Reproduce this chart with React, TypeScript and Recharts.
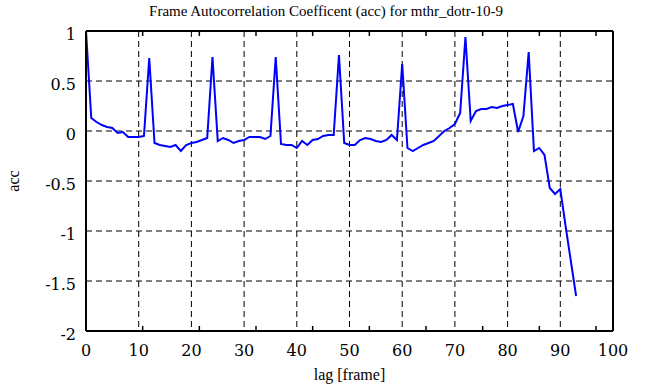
import { LineChart, Line, XAxis, YAxis, CartesianGrid } from "recharts";

const lags: number[] = Array.from({ length: 94 }, (_, i) => i);

const acc: number[] = [
  1.0, 0.13, 0.09, 0.06, 0.04, 0.03, -0.02, -0.01, -0.06, -0.06,
  -0.06, -0.05, 0.73, -0.12, -0.14, -0.15, -0.16, -0.14, -0.2, -0.14,
  -0.12, -0.11, -0.09, -0.07, 0.74, -0.1, -0.07, -0.09, -0.12, -0.1,
  -0.09, -0.06, -0.06, -0.06, -0.08, -0.05, 0.74, -0.13, -0.14, -0.14,
  -0.17, -0.1, -0.14, -0.09, -0.08, -0.05, -0.04, -0.04, 0.76, -0.12,
  -0.14, -0.14, -0.09, -0.07, -0.08, -0.1, -0.11, -0.09, -0.04, -0.09,
  0.67, -0.17, -0.2, -0.17, -0.14, -0.12, -0.1, -0.05, 0.0, 0.03,
  0.07, 0.18, 0.94, 0.1, 0.2, 0.22, 0.22, 0.24, 0.23, 0.25,
  0.26, 0.27, -0.01, 0.15, 0.79, -0.2, -0.17, -0.24, -0.57, -0.63,
  -0.58, -0.95, -1.3, -1.65,
];

const xTicks = [0, 10, 20, 30, 40, 50, 60, 70, 80, 90, 100];
const yTicks = [-2, -1.5, -1, -0.5, 0, 0.5, 1];

const data = lags.map((lag, i) => ({ lag, acc: acc[i] }));

const font = "Liberation Serif, Times New Roman, serif";
const tickFont = "DejaVu Serif";
const blank = () => "";

const renderXTick = (props: any) => (
  <text x={props.x} y={props.y + 25} textAnchor="middle" fontFamily={tickFont} fontSize={16} fill="#000">
    {props.payload.value}
  </text>
);

const renderYTick = (props: any) => (
  <text x={props.x - 10} y={props.y + 9} textAnchor="end" fontFamily={tickFont} fontSize={16} fill="#000">
    {props.payload.value}
  </text>
);

export default function App() {
  return (
    <div style={{ position: "absolute", left: 0, top: 0, width: 646, height: 387, background: "#fff", fontFamily: font }}>
      <div
        style={{
          position: "absolute",
          left: 3,
          width: 646,
          top: 1,
          textAlign: "center",
          fontSize: 15,
          lineHeight: "20px",
          color: "#000",
        }}
      >
        Frame Autocorrelation Coefficent (acc) for mthr_dotr-10-9
      </div>
      <div
        style={{
          position: "absolute",
          left: 86,
          width: 527,
          top: 365,
          textAlign: "center",
          fontSize: 16,
          lineHeight: "20px",
          color: "#000",
        }}
      >
        lag [frame]
      </div>
      <div
        style={{
          position: "absolute",
          left: 14,
          top: 181,
          transform: "translate(-50%, -50%) rotate(-90deg)",
          fontSize: 16,
          lineHeight: "20px",
          color: "#000",
        }}
      >
        acc
      </div>
      <LineChart
        width={646}
        height={387}
        data={data}
        margin={{ top: 31, right: 33, bottom: 0, left: 0 }}
        style={{ position: "absolute", left: 0, top: 0 }}
      >
        <CartesianGrid stroke="#000" strokeDasharray="6 4" strokeWidth={1} />
        <XAxis
          dataKey="lag"
          type="number"
          domain={[0, 100]}
          ticks={xTicks}
          interval={0}
          height={56}
          tickLine={false}
          tickSize={0}
          tickMargin={0}
          axisLine={{ stroke: "#000", strokeWidth: 2 }}
          tick={renderXTick}
        />
        <XAxis
          xAxisId="top"
          orientation="top"
          type="number"
          domain={[0, 100]}
          ticks={xTicks}
          interval={0}
          mirror
          tickSize={5}
          tickFormatter={blank}
          tickLine={{ stroke: "#000", strokeWidth: 1.5 }}
          axisLine={{ stroke: "#000", strokeWidth: 2 }}
        />
        <XAxis
          xAxisId="bot"
          orientation="bottom"
          type="number"
          domain={[0, 100]}
          ticks={xTicks}
          interval={0}
          mirror
          tickSize={5}
          tickFormatter={blank}
          tickLine={{ stroke: "#000", strokeWidth: 1.5 }}
          axisLine={false}
        />
        <YAxis
          type="number"
          domain={[-2, 1]}
          ticks={yTicks}
          interval={0}
          width={86}
          tickLine={false}
          tickSize={0}
          tickMargin={0}
          axisLine={{ stroke: "#000", strokeWidth: 2 }}
          tick={renderYTick}
        />
        <YAxis
          yAxisId="left2"
          orientation="left"
          type="number"
          domain={[-2, 1]}
          ticks={yTicks}
          interval={0}
          mirror
          tickSize={5}
          tickFormatter={blank}
          tickLine={{ stroke: "#000", strokeWidth: 1.5 }}
          axisLine={false}
        />
        <YAxis
          yAxisId="right"
          orientation="right"
          type="number"
          domain={[-2, 1]}
          ticks={yTicks}
          interval={0}
          mirror
          tickSize={5}
          tickFormatter={blank}
          tickLine={{ stroke: "#000", strokeWidth: 1.5 }}
          axisLine={{ stroke: "#000", strokeWidth: 2 }}
        />
        <Line
          type="linear"
          dataKey="acc"
          stroke="#0000ff"
          strokeWidth={2}
          dot={false}
          isAnimationActive={false}
        />
      </LineChart>
    </div>
  );
}
